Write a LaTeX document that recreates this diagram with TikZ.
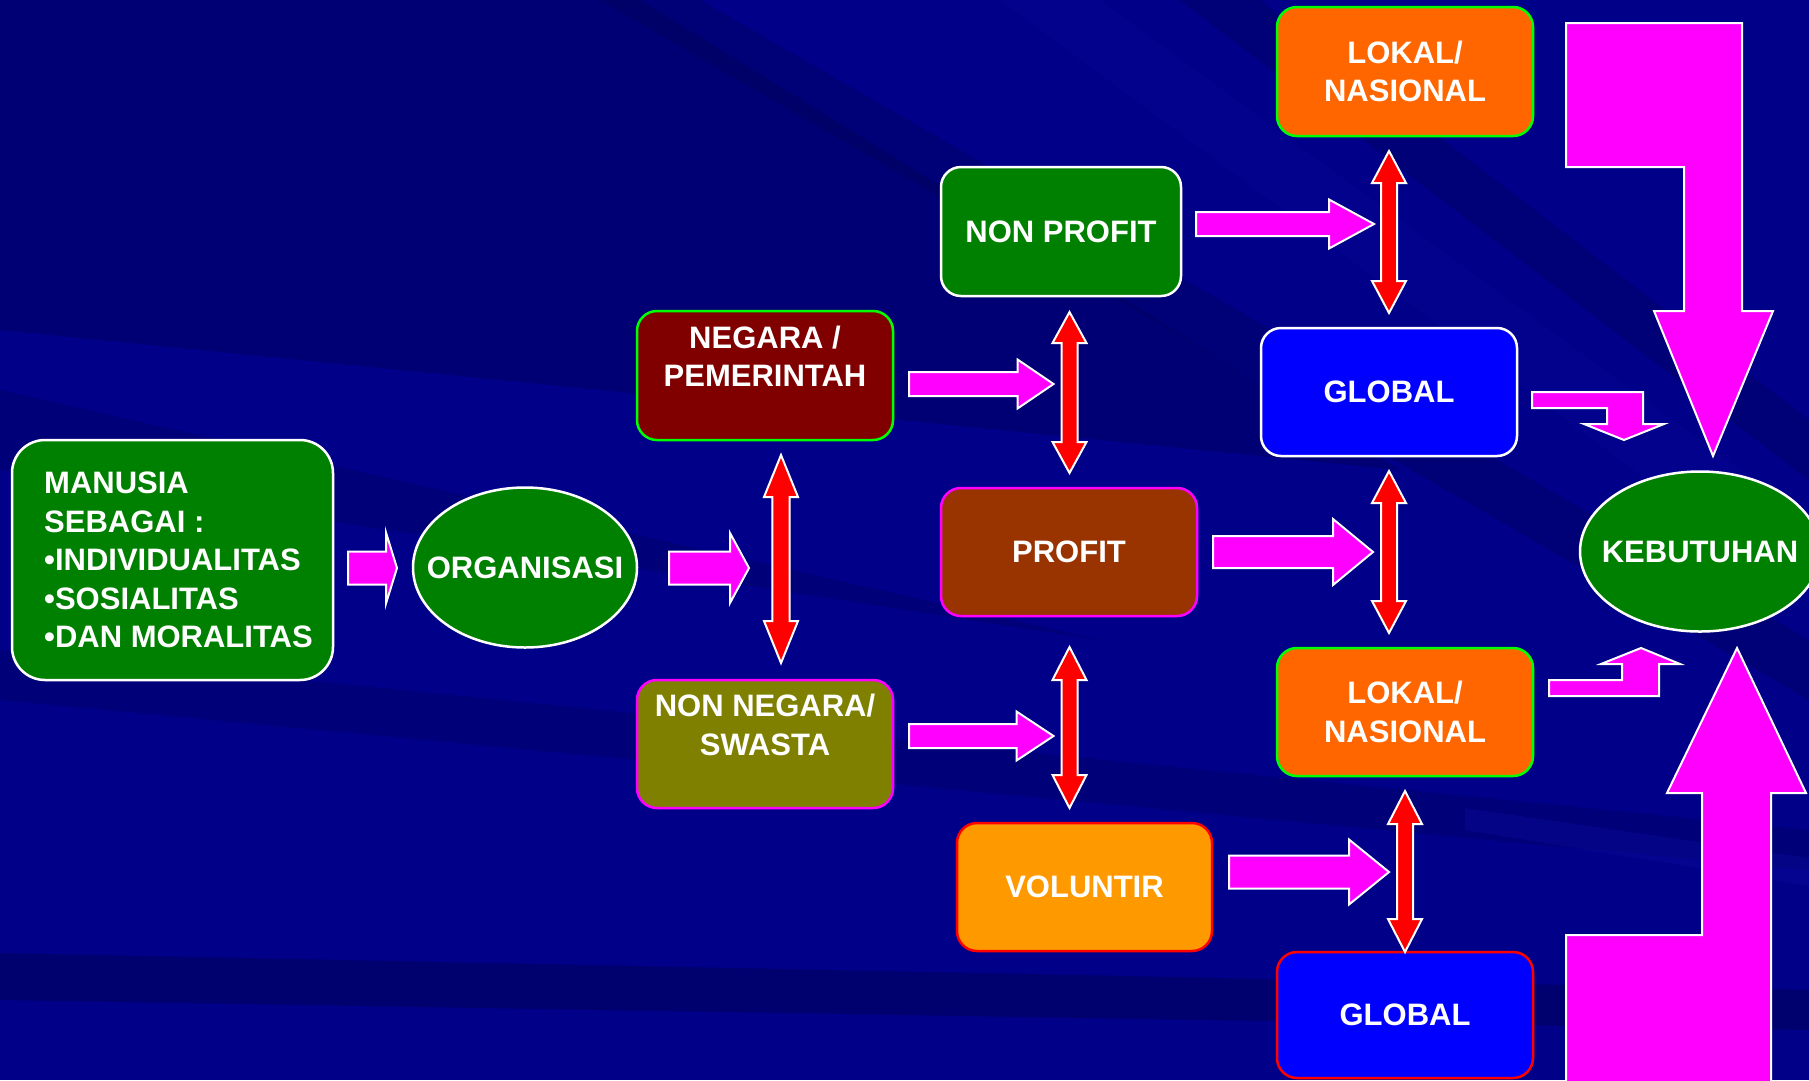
\documentclass[tikz,border=0pt]{standalone}
\usepackage{fontspec}
\setmainfont{Liberation Sans}
\usetikzlibrary{shapes.geometric}

\definecolor{bgnavy}{HTML}{000088}
\definecolor{bgdark}{HTML}{000050}
\definecolor{bglight}{HTML}{1010A8}
\definecolor{boxgreen}{HTML}{008000}
\definecolor{boxmaroon}{HTML}{800000}
\definecolor{boxolive}{HTML}{808000}
\definecolor{boxrust}{HTML}{993300}
\definecolor{boxamber}{HTML}{FF9900}
\definecolor{boxorange}{HTML}{FF6600}
\definecolor{boxblue}{HTML}{0000FF}
\definecolor{linegreen}{HTML}{00FF00}
\definecolor{pinkline}{HTML}{FF00FF}
\definecolor{redline}{HTML}{FF0000}

% fat arrow to the right: tail x, tip x, y, half shaft, half head, head length
\newcommand{\rblock}[6]{%
\draw[magblock] (#1,{#3-#4}) -- ({#2-#6},{#3-#4}) -- ({#2-#6},{#3-#5}) -- (#2,#3)
  -- ({#2-#6},{#3+#5}) -- ({#2-#6},{#3+#4}) -- (#1,{#3+#4}) -- cycle;}
% fat double arrow, vertical: x, top tip, bottom tip, half shaft, half head, head length
\newcommand{\vdouble}[6]{%
\draw[redblock] (#1,#2) -- ({#1+#5},{#2+#6}) -- ({#1+#4},{#2+#6}) -- ({#1+#4},{#3-#6})
  -- ({#1+#5},{#3-#6}) -- (#1,#3) -- ({#1-#5},{#3-#6}) -- ({#1-#4},{#3-#6})
  -- ({#1-#4},{#2+#6}) -- ({#1-#5},{#2+#6}) -- cycle;}

\begin{document}
\begin{tikzpicture}[x=1pt, y=-1pt,
  box/.style={rectangle, rounded corners=20pt, line width=2.5pt, text=white, align=center,
    inner sep=0pt, font=\bfseries\fontsize{31}{38.5}\selectfont},
  oval/.style={ellipse, line width=2.5pt, draw=white, fill=boxgreen, text=white,
    inner sep=0pt, font=\bfseries\fontsize{31}{38.5}\selectfont},
  magblock/.style={fill=pinkline, draw=white, line width=2pt},
  redblock/.style={fill=redline, draw=white, line width=2pt}]
\clip (0,0) rectangle (1809,1080);

% background with streaks
\fill[bgnavy] (0,0) rectangle (1809,1080);
\fill[bgdark, opacity=.35] (0,0) -- (640,0) -- (1400,470) -- (0,330) -- cycle;
\fill[bgdark, opacity=.25] (0,390) -- (1100,640) -- (0,470) -- cycle;
\fill[bgdark, opacity=.3] (600,0) -- (700,0) -- (1809,640) -- (1809,700) -- cycle;
\fill[bgdark, opacity=.3] (1180,0) -- (1260,0) -- (1809,420) -- (1809,480) -- cycle;
\fill[bglight, opacity=.15] (1000,0) -- (1100,0) -- (1809,520) -- (1809,600) -- cycle;
\fill[bgdark, opacity=.25] (0,650) -- (1809,830) -- (1809,870) -- (0,700) -- cycle;
\fill[bglight, opacity=.3] (1465,808) -- (1809,858) -- (1809,886) -- (1465,830) -- cycle;
\fill[bgdark, opacity=.45] (0,953) -- (1809,990) -- (1809,1030) -- (0,1000) -- cycle;

% nodes
\node[box, draw=white, fill=boxgreen, rounded corners=33pt, minimum width=321, minimum height=240, align=left]
  (manusia) at (172.5,560) {\hspace*{12pt}MANUSIA\\\hspace*{12pt}SEBAGAI :\\\hspace*{12pt}•INDIVIDUALITAS\\\hspace*{12pt}•SOSIALITAS\\\hspace*{12pt}•DAN MORALITAS};
\node[oval, minimum width=224, minimum height=160] (org) at (525,567.5) {\makebox[0pt]{ORGANISASI}};
\node[box, draw=linegreen, fill=boxmaroon, minimum width=256, minimum height=129]
  (negara) at (765,375.5) {NEGARA /\\PEMERINTAH\\\mbox{}};
\node[box, draw=pinkline, fill=boxolive, minimum width=256, minimum height=128]
  (swasta) at (765,744) {NON NEGARA/\\SWASTA\\\mbox{}};
\node[box, draw=white, fill=boxgreen, minimum width=240, minimum height=129]
  (nonprofit) at (1061,231.5) {NON PROFIT};
\node[box, draw=pinkline, fill=boxrust, minimum width=256, minimum height=128]
  (profit) at (1069,552) {PROFIT};
\node[box, draw=redline, fill=boxamber, minimum width=255, minimum height=128]
  (voluntir) at (1084.5,887) {VOLUNTIR};
\node[box, draw=linegreen, fill=boxorange, minimum width=256, minimum height=129]
  (lokala) at (1405,71.5) {LOKAL/\\NASIONAL};
\node[box, draw=white, fill=boxblue, minimum width=256, minimum height=128]
  (globala) at (1389,392) {GLOBAL};
\node[box, draw=linegreen, fill=boxorange, minimum width=256, minimum height=128]
  (lokalb) at (1405,712) {LOKAL/\\NASIONAL};
\node[box, draw=redline, fill=boxblue, minimum width=256, minimum height=126]
  (globalb) at (1405,1015) {GLOBAL};
\node[oval, minimum width=240, minimum height=160] (kebutuhan) at (1700,551.5) {\makebox[0pt]{KEBUTUHAN}};

% magenta arrows
\rblock{348}{397}{568}{16.5}{35.5}{11}
\rblock{669}{749}{568}{16.5}{35}{19}
\rblock{909}{1053.5}{384}{12}{24.5}{36}
\rblock{909}{1053.5}{736}{12}{24.5}{37}
\rblock{1196}{1374}{224}{12}{24.5}{45}
\rblock{1213}{1373}{552}{16}{33}{40}
\rblock{1229}{1389}{872}{16.5}{32.5}{40}

% red double arrows
\vdouble{781}{455}{663}{8.7}{17}{42}
\vdouble{1069.5}{312}{473}{8}{17}{31}
\vdouble{1069.5}{647}{808}{8}{17}{33}
\vdouble{1389}{151}{313}{8}{17}{32}
\vdouble{1389}{471}{633}{8}{17}{32}
\vdouble{1405}{791}{952}{8}{17}{33}

% bent arrows into KEBUTUHAN
\draw[magblock] (1532,392) -- (1643,392) -- (1643,424) -- (1664,424) -- (1624,440)
  -- (1584,424) -- (1607,424) -- (1607,408) -- (1532,408) -- cycle;
\draw[magblock] (1549,680) -- (1622,680) -- (1622,664) -- (1601,664) -- (1641,648)
  -- (1680,664) -- (1659,664) -- (1659,696) -- (1549,696) -- cycle;
\draw[magblock] (1566,23) -- (1742,23) -- (1742,311) -- (1773,311) -- (1713,456)
  -- (1654,311) -- (1684,311) -- (1684,167) -- (1566,167) -- cycle;
\draw[magblock] (1566,1090) -- (1566,935) -- (1702,935) -- (1702,793) -- (1667,793)
  -- (1737,648) -- (1806,793) -- (1771,793) -- (1771,1090) -- cycle;
\end{tikzpicture}
\end{document}
